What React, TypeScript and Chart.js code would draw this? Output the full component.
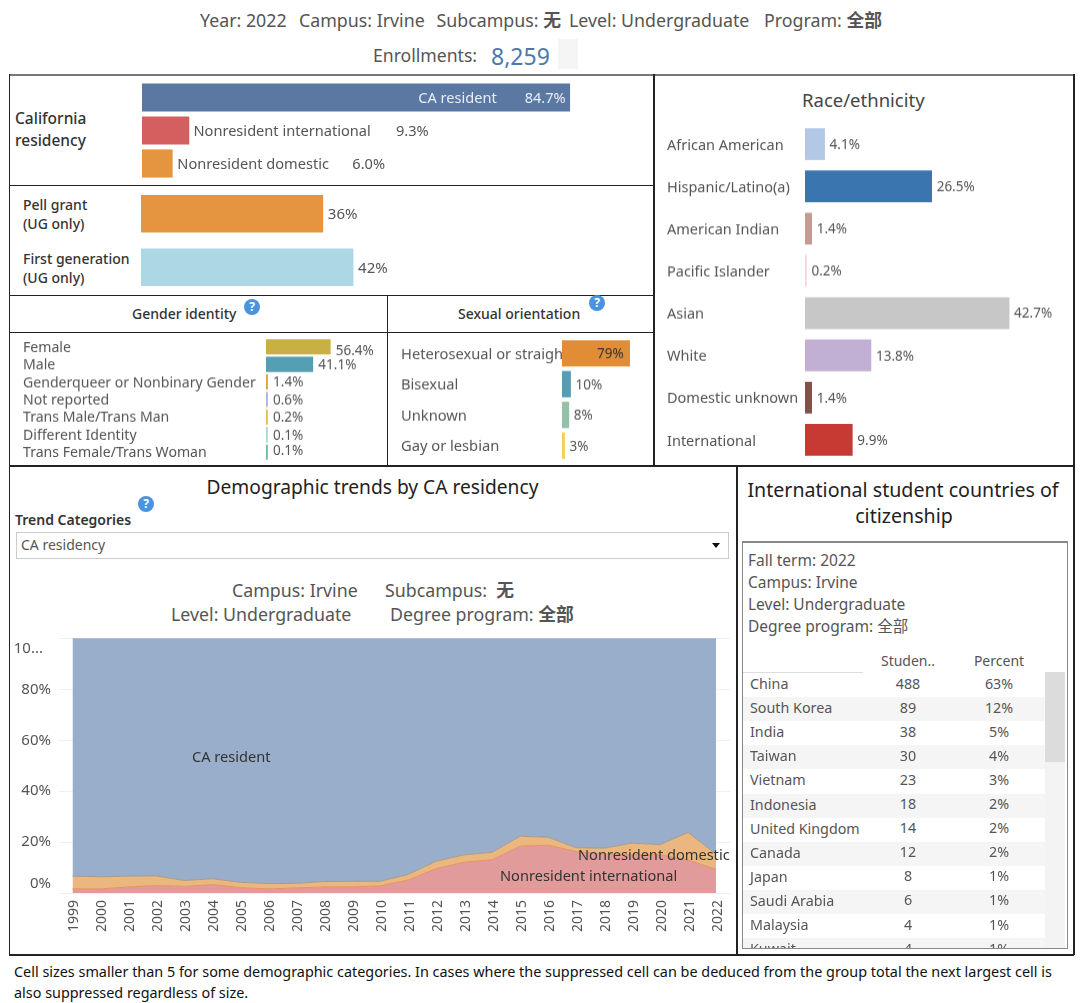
import React, { useEffect, useRef } from "react";
import { Chart, registerables } from "chart.js";

Chart.register(...registerables);

const FONT = '"Noto Sans", "Noto Sans CJK SC", sans-serif';
const TXT = "#555";

// ---- data ----
const residencyLabels = ["CA resident", "Nonresident international", "Nonresident domestic"];
const residencyValues = [84.7, 9.3, 6.0];
const residencyColors = ["#5b78a3", "#d35f5f", "#e59440"];

const supportLabels = ["Pell grant", "First generation"];
const supportValues = [36, 42];
const supportColors = ["#e59440", "#acd7e4"];

const genderLabels = ["Female", "Male", "Genderqueer or Nonbinary Gender", "Not reported", "Trans Male/Trans Man", "Different Identity", "Trans Female/Trans Woman"];
const genderValues = [56.4, 41.1, 1.4, 0.6, 0.2, 0.1, 0.1];
const genderText = ["56.4%", "41.1%", "1.4%", "0.6%", "0.2%", "0.1%", "0.1%"];
const genderColors = ["#c9b045", "#559fb5", "#d9a93c", "#aeb0e0", "#dfbd4f", "#a5d8d4", "#74bb9c"];

const orientationLabels = ["Heterosexual or straigh", "Bisexual", "Unknown", "Gay or lesbian"];
const orientationValues = [79, 10, 8, 3];
const orientationColors = ["#e08d36", "#559fb5", "#94c2a8", "#f0cf5a"];

const raceLabels = ["African American", "Hispanic/Latino(a)", "American Indian", "Pacific Islander", "Asian", "White", "Domestic unknown", "International"];
const raceValues = [4.1, 26.5, 1.4, 0.2, 42.7, 13.8, 1.4, 9.9];
const raceColors = ["#b3c7e6", "#3b75af", "#c49c94", "#f7d5e5", "#c7c7c7", "#c1b0d3", "#80524a", "#c73a33"];

const years = ["1999", "2000", "2001", "2002", "2003", "2004", "2005", "2006", "2007", "2008", "2009", "2010", "2011", "2012", "2013", "2014", "2015", "2016", "2017", "2018", "2019", "2020", "2021", "2022"];
const trendInternational = [1.6, 1.6, 2.4, 2.9, 2.6, 3.3, 2.1, 1.6, 2.0, 2.4, 2.4, 2.8, 5.1, 9.6, 12.1, 13.1, 18.4, 18.8, 16.3, 15.3, 15.0, 15.0, 13.0, 9.3];
const trendDomestic = [5.0, 4.8, 4.2, 3.8, 2.3, 2.3, 2.1, 2.1, 1.8, 2.1, 2.2, 1.8, 2.2, 2.9, 2.9, 2.9, 3.9, 3.1, 1.5, 2.3, 4.6, 4.0, 10.8, 6.0];
const trendResident = [93.4, 93.6, 93.4, 93.3, 95.1, 94.4, 95.8, 96.3, 96.2, 95.5, 95.4, 95.4, 92.7, 87.5, 85.0, 84.0, 77.7, 78.1, 82.2, 82.4, 80.4, 81.0, 76.2, 84.7];

const countries = ["China", "South Korea", "India", "Taiwan", "Vietnam", "Indonesia", "United Kingdom", "Canada", "Japan", "Saudi Arabia", "Malaysia", "Kuwait"];
const students = [488, 89, 38, 30, 23, 18, 14, 12, 8, 6, 4, 4];
const percents = ["63%", "12%", "5%", "4%", "3%", "2%", "2%", "2%", "1%", "1%", "1%", "1%"];

type Item = { i: number; text: string; dx: number; dy?: number; align?: CanvasTextAlign; color?: string };

const valueLabelPlugin = {
  id: "valueLabels",
  afterDatasetsDraw(chart: any, _a: any, opts: any) {
    const items: Item[] = opts.items || [];
    const meta = chart.getDatasetMeta(0);
    const ctx = chart.ctx;
    ctx.save();
    ctx.font = `${opts.size || 13.5}px ${FONT}`;
    ctx.textBaseline = "middle";
    items.forEach((it) => {
      const bar = meta.data[it.i];
      ctx.fillStyle = it.color || TXT;
      ctx.textAlign = it.align || "left";
      ctx.fillText(it.text, bar.x + it.dx, bar.y + (it.dy || 0));
    });
    ctx.restore();
  },
};

const yLabelPlugin = {
  id: "yLabels",
  afterDraw(chart: any) {
    const s = chart.scales.y;
    const ctx = chart.ctx;
    ctx.save();
    ctx.font = `15px ${FONT}`;
    ctx.fillStyle = TXT;
    ctx.textAlign = "right";
    ctx.textBaseline = "middle";
    s.ticks.forEach((t: any) => {
      const y = s.getPixelForValue(t.value) + (t.value === 0 ? -9 : t.value === 100 ? 10 : 0);
      ctx.fillText(t.label, t.value === 100 ? 33 : 41, y);
    });
    ctx.restore();
  },
};

function BarPanel(p: {
  left: number; top: number; w: number; h: number; axisW?: number; ppu: number; thick: number;
  labels: string[]; values: number[]; colors: string[]; items: Item[]; tickSize?: number; size?: number; tickShift?: number;
}) {
  const ref = useRef<HTMLCanvasElement>(null);
  useEffect(() => {
    const axisW = p.axisW || 0;
    const chart = new Chart(ref.current!, {
      type: "bar",
      data: {
        labels: p.labels,
        datasets: [{ data: p.values, backgroundColor: p.colors, barThickness: p.thick, minBarLength: 1.5 }],
      },
      plugins: [valueLabelPlugin],
      options: {
        indexAxis: "y",
        animation: false,
        responsive: false,
        layout: { padding: 0 },
        plugins: { legend: { display: false }, tooltip: { enabled: false }, valueLabels: { items: p.items, size: p.size } },
        scales: {
          x: { display: false, min: 0, max: (p.w - axisW) / p.ppu },
          y: {
            display: axisW > 0,
            grid: { display: false, drawTicks: false },
            border: { display: false },
            ticks: { crossAlign: "far", padding: 0, labelOffset: p.tickShift || 0, color: TXT, autoSkip: false, font: { family: FONT, size: p.tickSize || 14.1 } },
            afterFit: (s: any) => { s.width = axisW; s.paddingTop = 0; s.paddingBottom = 0; },
          },
        },
      } as any,
    });
    return () => chart.destroy();
  }, []);
  return <canvas ref={ref} width={p.w} height={p.h} style={{ position: "absolute", left: p.left, top: p.top, width: p.w, height: p.h }} />;
}

function TrendChart() {
  const ref = useRef<HTMLCanvasElement>(null);
  useEffect(() => {
    const line = { pointRadius: 0, borderWidth: 1, tension: 0 };
    const chart = new Chart(ref.current!, {
      type: "line",
      data: {
        labels: years,
        datasets: [
          { label: "Nonresident international", data: trendInternational, backgroundColor: "#e19b9b", borderColor: "#e8915a", fill: "origin", ...line },
          { label: "Nonresident domestic", data: trendDomestic, backgroundColor: "#ebb780", borderColor: "#a89a88", fill: "-1", ...line },
          { label: "CA resident", data: trendResident, backgroundColor: "#98aeca", borderColor: "#7493bb", fill: "-1", ...line },
        ],
      },
      plugins: [yLabelPlugin],
      options: {
        animation: false,
        responsive: false,
        layout: { padding: { top: 8.5, right: 8.5, left: 0, bottom: 0 } },
        plugins: { legend: { display: false }, tooltip: { enabled: false } },
        scales: {
          x: {
            stacked: true,
            offset: true,
            grid: { display: false, drawTicks: false },
            border: { display: false },
            ticks: { minRotation: 90, maxRotation: 90, autoSkip: false, padding: 7, labelOffset: 1.5, color: TXT, font: { family: FONT, size: 14 } },
            afterFit: (s: any) => { s.height = 47; },
          },
          y: {
            stacked: true,
            min: 0,
            max: 100,
            grid: { color: "#f1f1f1", drawTicks: false },
            border: { display: false },
            ticks: { stepSize: 20, display: false, callback: (v: any) => (v === 100 ? "10..." : v + "%") },
            afterFit: (s: any) => { s.width = 48.5; },
          },
        },
      } as any,
    });
    return () => chart.destroy();
  }, []);
  return <canvas ref={ref} width={730} height={310} style={{ position: "absolute", left: 10, top: 630, width: 730, height: 310 }} />;
}

function T(p: { x: number; y: number; s: number; c?: string; w?: number; children: React.ReactNode; center?: boolean }) {
  return (
    <div style={{
      position: "absolute", left: p.x, top: p.y, fontSize: p.s, color: p.c || TXT, fontWeight: p.w || 400,
      lineHeight: 1, whiteSpace: "pre", transform: p.center ? "translate(-50%,-50%)" : "translateY(-50%)",
    }}>{p.children}</div>
  );
}

function Help({ x, y }: { x: number; y: number }) {
  return (
    <div style={{
      position: "absolute", left: x - 8, top: y - 8, width: 16, height: 16, borderRadius: 8, background: "#4a93e0",
      color: "#fff", fontSize: 12, fontWeight: 700, textAlign: "center", lineHeight: "16px",
    }}>?</div>
  );
}

const B = ({ children }: { children: React.ReactNode }) => <span style={{ fontWeight: 700 }}>{children}</span>;

const rules = [
  { x: 8.5, y: 74, w: 1066, h: 1.5, c: "#777" },
  { x: 8.5, y: 74, w: 1.5, h: 881, c: "#222" },
  { x: 1073, y: 74, w: 1.5, h: 881, c: "#222" },
  { x: 653, y: 74, w: 1.5, h: 392, c: "#222" },
  { x: 9, y: 184.5, w: 645, h: 1.5, c: "#222" },
  { x: 9, y: 294.5, w: 645, h: 1.5, c: "#222" },
  { x: 386.5, y: 295, w: 1.5, h: 170, c: "#222" },
  { x: 9, y: 331.5, w: 645, h: 1.5, c: "#222" },
  { x: 9, y: 465, w: 1065, h: 1.5, c: "#222" },
  { x: 736, y: 465, w: 1.5, h: 489, c: "#222" },
  { x: 9, y: 954, w: 1065, h: 1.5, c: "#222" },
];

const residencyItems: Item[] = [
  { i: 0, text: "CA resident", dx: -73, dy: 1, align: "right", color: "#e9eef5" },
  { i: 0, text: residencyValues[0].toFixed(1) + "%", dx: -4, dy: 1, align: "right", color: "#e9eef5" },
  { i: 1, text: residencyLabels[1], dx: 4.5, dy: 1.5, color: TXT },
  { i: 1, text: residencyValues[1].toFixed(1) + "%", dx: 207, dy: 1.5, color: TXT },
  { i: 2, text: residencyLabels[2], dx: 5, dy: 1.5, color: TXT },
  { i: 2, text: residencyValues[2].toFixed(1) + "%", dx: 180, dy: 1.5, color: TXT },
];
const supportItems: Item[] = supportValues.map((v, i) => ({ i, text: v + "%", dx: 5, dy: 1 }));
const genderDy = [4.7, 1, 1, 1, 1, 1, -1];
const genderItems: Item[] = genderText.map((t, i) => ({ i, text: t, dx: 5.5, dy: genderDy[i] }));
const orientationItems: Item[] = orientationValues.map((v, i) =>
  i === 0 ? { i, text: v + "%", dx: -6, dy: 1, align: "right" as CanvasTextAlign, color: "#333" } : { i, text: v + "%", dx: 5, dy: 1 });
const raceItems: Item[] = raceValues.map((v, i) => ({ i, text: v.toFixed(1) + "%", dx: 5, dy: 1 }));

export default function App() {
  return (
    <div style={{ position: "absolute", left: 0, top: 0, width: 1080, height: 1003, overflow: "hidden", background: "#fff", fontFamily: FONT }}>
      <T x={200} y={21} s={17.8}>Year: 2022</T>
      <T x={299} y={21} s={17.8}>Campus: Irvine</T>
      <T x={436.5} y={21} s={17.8}>Subcampus: <B>无</B></T>
      <T x={569} y={21} s={17.8}>Level: Undergraduate</T>
      <T x={764} y={21} s={17.8}>Program: <B>全部</B></T>
      <T x={373} y={56} s={17.6}>Enrollments:</T>
      <T x={491} y={56} s={23} c="#4e79a7">8,259</T>
      <div style={{ position: "absolute", left: 558, top: 39, width: 20, height: 30, background: "#f5f5f5" }} />

      {rules.map((r, i) => (
        <div key={i} style={{ position: "absolute", left: r.x, top: r.y, width: r.w, height: r.h, background: r.c }} />
      ))}

      <T x={15} y={119} s={15.5} c="#333" w={500}>California</T>
      <T x={15} y={141} s={15.5} c="#333" w={500}>residency</T>
      <BarPanel left={142} top={80.5} w={510} h={99} ppu={5.05} thick={27.5} labels={residencyLabels} values={residencyValues} colors={residencyColors} items={residencyItems} size={14.6} />

      <T x={23} y={205} s={14} c="#333" w={500}>Pell grant</T>
      <T x={23} y={224} s={14} c="#333" w={500}>(UG only)</T>
      <T x={23} y={259} s={14} c="#333" w={500}>First generation</T>
      <T x={23} y={278} s={14} c="#333" w={500}>(UG only)</T>
      <BarPanel left={140.5} top={186.75} w={510} h={107} ppu={5.05} thick={37} labels={supportLabels} values={supportValues} colors={supportColors} items={supportItems} size={15} />

      <T x={132} y={314} s={14} c="#333" w={500}>Gender identity</T>
      <Help x={252} y={307} />
      <T x={458} y={314} s={14} c="#333" w={500}>Sexual orientation</T>
      <Help x={597} y={303} />

      <BarPanel left={23} top={338.25} w={360} h={122.5} axisW={243} ppu={1.14} thick={14.5} labels={genderLabels} values={genderValues} colors={genderColors} items={genderItems} tickShift={1} />
      <BarPanel left={401} top={338} w={250} h={122.5} axisW={161} ppu={0.856} thick={25.5} labels={orientationLabels} values={orientationValues} colors={orientationColors} items={orientationItems} tickSize={14.7} tickShift={1.5} />

      <T x={802} y={100} s={18.5} c="#444">Race/ethnicity</T>
      <BarPanel left={667} top={123} w={400} h={337.6} axisW={138} ppu={4.78} thick={31} labels={raceLabels} values={raceValues} colors={raceColors} items={raceItems} tickSize={14.5} tickShift={1.5} />

      <T x={372.5} y={487} s={19.2} c="#222" center>Demographic trends by CA residency</T>
      <Help x={146} y={504} />
      <T x={15} y={520} s={14} c="#333" w={600}>Trend Categories</T>
      <div style={{ position: "absolute", left: 16, top: 532, width: 711, height: 25, border: "1px solid #ccc" }} />
      <T x={21} y={545} s={14}>CA residency</T>
      <div style={{ position: "absolute", left: 712, top: 543, width: 0, height: 0, borderLeft: "4px solid transparent", borderRight: "4px solid transparent", borderTop: "5px solid #111" }} />

      <T x={232} y={591} s={17.8}>Campus: Irvine</T>
      <T x={385} y={591} s={17.8}>{"Subcampus:  "}<B>无</B></T>
      <T x={171} y={615} s={17.8}>Level: Undergraduate</T>
      <T x={390} y={615} s={17.8}>Degree program: <B>全部</B></T>

      <TrendChart />
      <T x={192} y={756} s={14.6} c="#333">CA resident</T>
      <T x={578} y={854} s={14.6} c="#333">Nonresident domestic</T>
      <T x={500} y={875} s={14.6} c="#333">Nonresident international</T>

      <T x={903} y={490} s={19.6} c="#222" center>International student countries of</T>
      <T x={904} y={516} s={19.6} c="#222" center>citizenship</T>

      <div style={{ position: "absolute", left: 742, top: 540.5, width: 326, height: 408, border: "1px solid #888", borderTop: "2px solid #888", boxSizing: "border-box", overflow: "hidden" }}>
        <div style={{ position: "absolute", left: -743, top: -542.5, width: 1080, height: 1003 }}>
          <T x={748} y={561} s={15.5}>Fall term: 2022</T>
          <T x={748} y={583} s={15.5}>Campus: Irvine</T>
          <T x={748} y={605} s={15.5}>Level: Undergraduate</T>
          <T x={748} y={627} s={15.5}>Degree program: 全部</T>
          <T x={908} y={661} s={14} center>Studen..</T>
          <T x={999} y={661} s={14} center>Percent</T>
          <div style={{ position: "absolute", left: 743, top: 672, width: 120, height: 1, background: "#ddd" }} />
          {countries.map((c, i) => (
            <React.Fragment key={c}>
              {i % 2 === 1 && <div style={{ position: "absolute", left: 743, top: 673 + i * 24.1, width: 302, height: 24.1, background: "#f5f5f5" }} />}
              <T x={750} y={684 + i * 24.1} s={14.3}>{c}</T>
              <T x={908} y={683.5 + i * 24.1} s={14.3} center>{students[i]}</T>
              <T x={999} y={683.5 + i * 24.1} s={14.3} center>{percents[i]}</T>
            </React.Fragment>
          ))}
          <div style={{ position: "absolute", left: 1045, top: 672, width: 20, height: 280, background: "#f3f3f3" }} />
          <div style={{ position: "absolute", left: 1045, top: 672, width: 20, height: 90, background: "#dcdcdc" }} />
        </div>
      </div>

      <T x={14} y={971.5} s={14.4} c="#111">Cell sizes smaller than 5 for some demographic categories. In cases where the suppressed cell can be deduced from the group total the next largest cell is</T>
      <T x={14} y={992.5} s={14.4} c="#111">also suppressed regardless of size.</T>
    </div>
  );
}
